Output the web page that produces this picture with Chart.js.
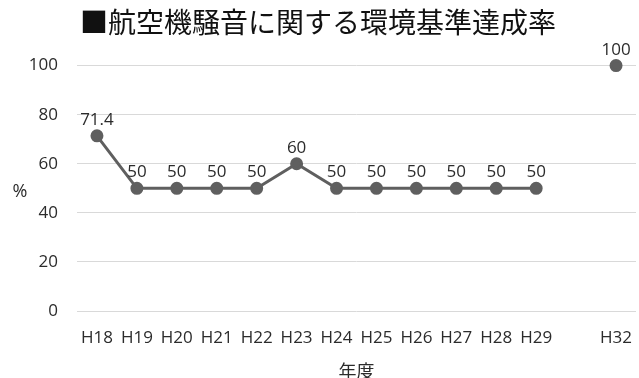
<!DOCTYPE html>
<html>
<head>
<meta charset="utf-8">
<script src="https://cdn.jsdelivr.net/npm/chart.js@4"></script>
<style>
  html, body { margin: 0; padding: 0; background: #fff; }
  #wrap { width: 639px; height: 378px; }
</style>
</head>
<body>
<div id="wrap"><canvas id="noiseChart" width="639" height="378"></canvas></div>
<script>
const years = ['H18', 'H19', 'H20', 'H21', 'H22', 'H23', 'H24', 'H25', 'H26', 'H27', 'H28', 'H29', '', 'H32'];
const rates = [71.4, 50, 50, 50, 50, 60, 50, 50, 50, 50, 50, 50, null, 100];
const yTicks = [0, 20, 40, 60, 80, 100];

const numFont = '"Open Sans", "Noto Sans", sans-serif';
const jpFont = '"Noto Sans CJK JP", sans-serif';
const textColor = '#2b2b2b';

// value labels above points + horizontal "%" axis label
const labelPlugin = {
  id: 'valueLabels',
  afterDatasetsDraw(chart) {
    const ctx = chart.ctx;
    const meta = chart.getDatasetMeta(0);
    ctx.save();
    ctx.fillStyle = textColor;
    ctx.font = '17px ' + numFont;
    ctx.textAlign = 'center';
    ctx.textBaseline = 'alphabetic';
    meta.data.forEach((pt, i) => {
      if (rates[i] == null) return;
      ctx.fillText(String(rates[i]), pt.x, pt.y - 11);
    });
    ctx.font = '18px ' + numFont;
    ctx.textBaseline = 'middle';
    ctx.fillText('%', 20, 192);
    ctx.restore();
  }
};

new Chart(document.getElementById('noiseChart').getContext('2d'), {
  type: 'line',
  data: {
    labels: years,
    datasets: [{
      data: rates,
      borderColor: '#5f5f5f',
      backgroundColor: '#5f5f5f',
      borderWidth: 3,
      pointRadius: 5,
      pointHoverRadius: 5,
      spanGaps: false,
      clip: false,
      tension: 0
    }]
  },
  options: {
    responsive: false,
    animation: false,
    layout: { autoPadding: false, padding: { left: 0, right: 3, top: 0, bottom: 0 } },
    plugins: {
      legend: { display: false },
      tooltip: { enabled: false },
      title: {
        display: true,
        text: '■航空機騒音に関する環境基準達成率',
        color: '#111',
        font: { family: jpFont, size: 28, weight: 'normal' },
        padding: { top: 6, bottom: 26 }
      }
    },
    scales: {
      x: {
        offset: true,
        grid: { display: false, drawTicks: false },
        border: { display: false },
        ticks: { color: textColor, font: { family: numFont, size: 17 }, padding: 17, maxRotation: 0, autoSkip: false },
        title: { display: true, text: '年度', color: textColor, font: { family: jpFont, size: 18 }, padding: { top: 0, bottom: -4 } },
        afterFit: s => { s.height = 67; s.paddingLeft = 0; s.paddingRight = 0; }
      },
      y: {
        min: 0,
        max: 100,
        afterBuildTicks: s => { s.ticks = yTicks.map(v => ({ value: v })); },
        grid: { color: '#d9d9d9', drawTicks: false },
        border: { display: false },
        ticks: { color: textColor, font: { family: numFont, size: 17 }, padding: 19 },
        afterFit: s => { s.width = 77; }
      }
    }
  },
  plugins: [labelPlugin]
});
</script>
</body>
</html>
